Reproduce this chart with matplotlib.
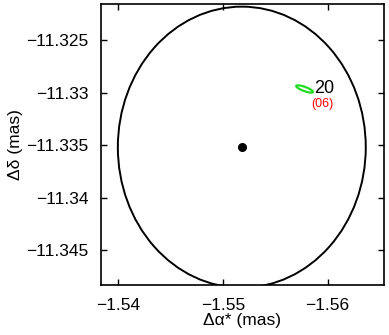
import matplotlib
matplotlib.use("Agg")
import matplotlib.pyplot as plt
from matplotlib.patches import Ellipse
from matplotlib.ticker import FuncFormatter

plt.rcParams["font.family"] = ["Liberation Sans", "DejaVu Sans"]

# big error ellipse + centre
center_x = -1.5518
center_y = -11.3352
big_w = 0.02368    # full width (mas)
big_h = 0.02676    # full height (mas)

# small green ellipse (epoch 20 / 06)
small_x = -1.5578
small_y = -11.32966
small_w = 0.0017
small_h = 0.0004
small_angle = 20
label_main = "20"
label_sub = "(06)"

xticks = [-1.54, -1.55, -1.56]
yticks = [-11.345, -11.34, -11.335, -11.33, -11.325]

fig = plt.figure(figsize=(3.89, 3.35), dpi=100)
ax = fig.add_axes([0.2596, 0.149, 0.7275, 0.839])

ax.add_patch(Ellipse((center_x, center_y), big_w, big_h, fill=False,
                     edgecolor="black", linewidth=1.4))
ax.plot([center_x], [center_y], "o", color="black", markersize=5.5)
ax.add_patch(Ellipse((small_x, small_y), small_w, small_h, angle=small_angle,
                     fill=False, edgecolor="#22dd22", linewidth=1.6))

ax.text(-1.5587, -11.32964, label_main, fontsize=13, ha="left", va="center")
ax.text(-1.55952, -11.33112, label_sub, fontsize=9, color="red", ha="center", va="center")

ax.set_xlim(-1.53835, -1.56538)
ax.set_ylim(-11.34833, -11.32157)
ax.set_xticks(xticks)
ax.set_yticks(yticks)
fmt = FuncFormatter(lambda v, p: f"{v:g}".replace("-", "\u2212"))
ax.xaxis.set_major_formatter(fmt)
ax.yaxis.set_major_formatter(fmt)
ax.tick_params(direction="in", length=4, width=1, top=True, right=True, labelsize=12.5)
ax.tick_params(axis="x", pad=9)
ax.tick_params(axis="y", pad=9)
for s in ax.spines.values():
    s.set_linewidth(1.2)

ax.set_xlabel("Δα* (mas)", fontsize=12.5, labelpad=0)
ax.set_ylabel("Δδ (mas)", fontsize=12.5, labelpad=2)

fig.savefig("out.png", dpi=100)
